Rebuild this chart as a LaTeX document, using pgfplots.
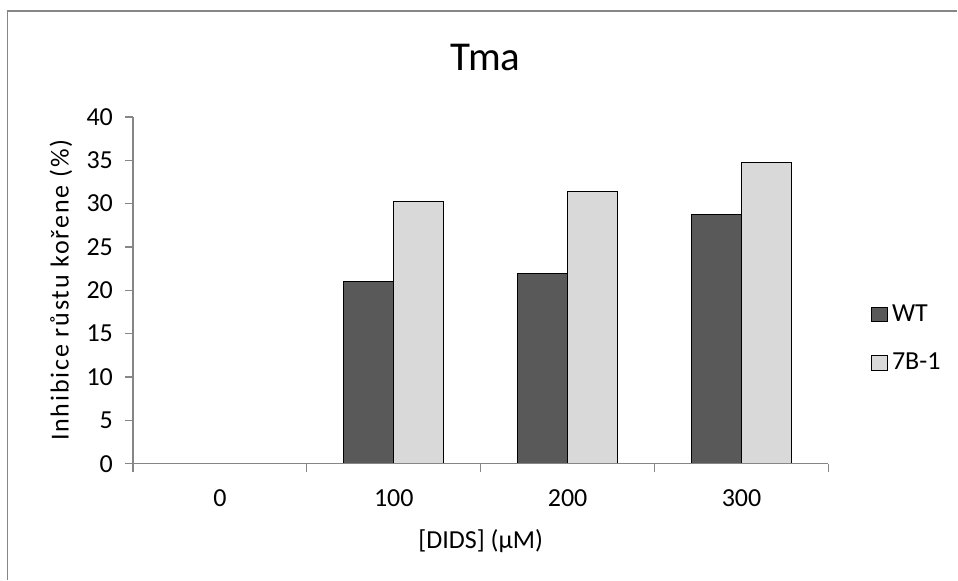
\documentclass[border=0pt]{standalone}
\usepackage{pgfplots}
\pgfplotsset{compat=1.18}
\usepackage{fontspec}
\setmainfont{Carlito}
\newfontfamily\spaced[LetterSpace=7]{Carlito}
\definecolor{wt}{HTML}{595959}
\definecolor{sb}{HTML}{D9D9D9}
\definecolor{ax}{HTML}{868686}
\begin{document}
\begin{tikzpicture}
\begin{axis}[
  scale only axis, width=348pt, height=173.5pt,
  xmin=-0.5, xmax=3.5, ymin=0, ymax=40,
  ybar=0pt,
  ytick={0,5,...,40},
  xtick={0,1,2,3}, xticklabels={0,100,200,300},
  major x tick style={draw=none},
  minor xtick={-0.5,0.5,1.5,2.5,3.5},
  axis x line*=bottom, axis y line*=left,
  axis line style={ax, line width=0.6pt, -},
  tick style={ax, line width=0.6pt},
  tick align=outside,
  major tick length=4pt, minor tick length=4pt,
  axis on top, clip=false,
  /pgf/number format/assume math mode=true,
  ticklabel style={font=\fontsize{13}{15}\selectfont, text=black},
  xticklabel style={anchor=center, yshift=-13pt},
  yticklabel style={anchor=east, xshift=-2.5pt},
  every axis y label/.style={at={(rel axis cs:-0.1034,0.5)}, rotate=90, anchor=center, font=\spaced\fontsize{13}{15}\selectfont},
  every axis x label/.style={at={(rel axis cs:0.5,-0.2219)}, anchor=center, font=\fontsize{13}{15}\selectfont},
  every axis title/.style={at={(rel axis cs:0.507,1.17)}, anchor=center, font=\fontsize{20.5}{24}\selectfont},
  title={Tma},
  xlabel={[DIDS] (μM)},
  ylabel={Inhibice růstu kořene (\%)},
  legend style={at={(rel axis cs:1.052,0.483)}, anchor=north west, draw=none, fill=none,
    font=\fontsize{13}{15}\selectfont, row sep=10.5pt},
  legend cell align=left,
]
\addplot[fill=wt, draw=black, line width=0.5pt, bar width=0.2874, bar shift=-0.1437,
  legend image code/.code={\draw[fill=wt, draw=black, line width=0.5pt] (0pt,-3.7pt) rectangle (8pt,3.7pt);}]
  coordinates {(0,0) (1,21.0) (2,21.9) (3,28.7)};
\addlegendentry{WT}
\addplot[fill=sb, draw=black, line width=0.5pt, bar width=0.2874, bar shift=0.1437,
  legend image code/.code={\draw[fill=sb, draw=black, line width=0.5pt] (0pt,-3.7pt) rectangle (8pt,3.7pt);}]
  coordinates {(0,0) (1,30.3) (2,31.4) (3,34.7)};
\addlegendentry{7B-1}
\draw[ax, line width=0.6pt] (rel axis cs:-0.18032,-0.33429) -- (rel axis cs:-0.18032,1.30548) -- (rel axis cs:1.18534,1.30548);
\path (rel axis cs:-0.19109,-0.33429) rectangle (rel axis cs:1.18534,1.33718);
\end{axis}
\end{tikzpicture}
\end{document}
